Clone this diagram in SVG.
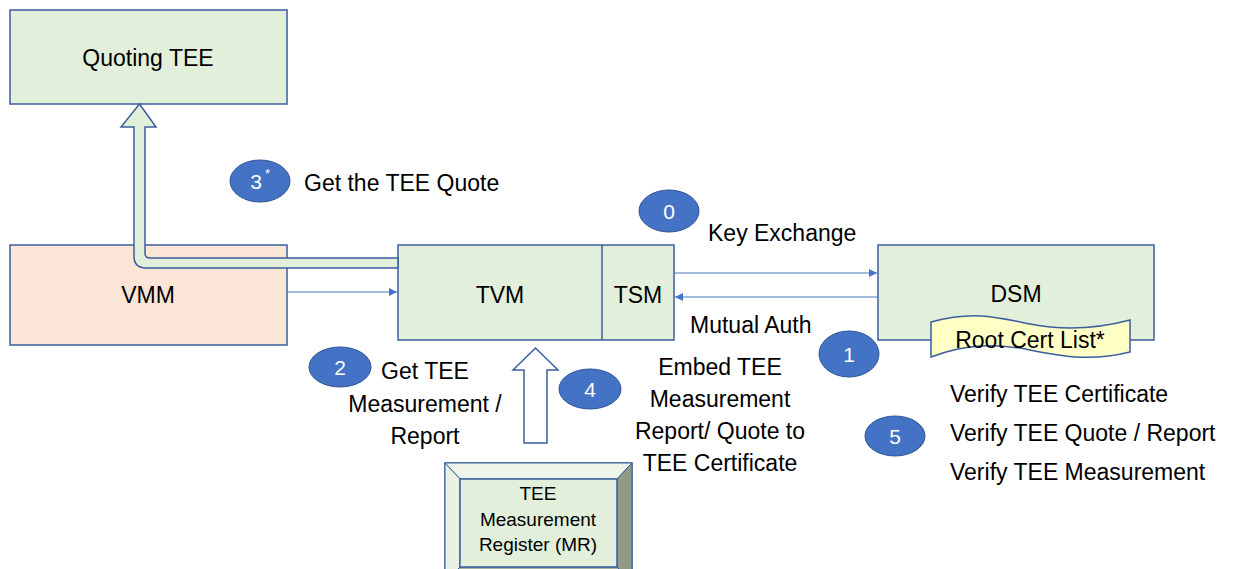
<svg xmlns="http://www.w3.org/2000/svg" width="1243" height="569" viewBox="0 0 1243 569">
<defs>
<style>
.box{fill:#e2efda;stroke:#3b5e9e;stroke-width:1.5}
.t{font-family:"Liberation Sans",Arial,sans-serif;font-size:23px;fill:#000}
.c{text-anchor:middle}
.num{fill:#4472c4;stroke:#2f5597;stroke-width:1}
.nt{font-family:"Liberation Sans",Arial,sans-serif;font-size:21px;fill:#fff;text-anchor:middle}
.ln{stroke:#4472c4;stroke-width:1;fill:none;marker-end:url(#ah)}
</style>
<marker id="ah" viewBox="0 0 10 10" refX="10" refY="5" markerWidth="10" markerHeight="8" markerUnits="userSpaceOnUse" orient="auto">
<path d="M0,0 L10,5 L0,10 Z" fill="#4472c4"/>
</marker>
</defs>
<rect width="1243" height="569" fill="#fff"/>

<g id="quoting-tee">
<rect class="box" x="10" y="10" width="277" height="94"/>
<text class="t c" x="148" y="66">Quoting TEE</text>
</g>

<g id="vmm">
<rect x="10" y="245" width="277" height="100" fill="#fbe5d6" stroke="#3b5e9e" stroke-width="1.5"/>
<text class="t c" x="148" y="303">VMM</text>
</g>

<g id="tvm">
<rect class="box" x="398" y="245" width="276" height="95"/>
<line x1="602" y1="245" x2="602" y2="340" stroke="#3b5e9e" stroke-width="1.5"/>
<text class="t c" x="500" y="303">TVM</text>
<text class="t c" x="638" y="303">TSM</text>
</g>

<g id="dsm">
<rect class="box" x="878" y="245" width="276" height="95"/>
<text class="t c" x="1016" y="302">DSM</text>
</g>

<g id="root-cert-list">
<path d="M931,322 C975,310 1000,318 1030,324 C1065,331 1100,328 1130,320 L1130,352 C1090,362 1060,356 1030,350 C995,343 965,344 931,357 Z" fill="#ffffc6" stroke="#3b5e9e" stroke-width="1.5"/>
<text class="t c" x="1030" y="348">Root Cert List*</text>
</g>

<g id="mr">
<rect x="445" y="463" width="187" height="119" fill="#e2efda" stroke="#3b5e9e" stroke-width="1.5"/>
<polygon points="445,463 632,463 617,479 460,479" fill="#eef5e8" stroke="#3b5e9e" stroke-width="1"/>
<polygon points="445,463 460,479 460,567 445,582" fill="#e8f1e2" stroke="#3b5e9e" stroke-width="1"/>
<polygon points="632,463 632,582 617,567 617,479" fill="#8f9b87" stroke="#3b5e9e" stroke-width="1"/>
<polygon points="445,582 460,567 617,567 632,582" fill="#a7b39f" stroke="#3b5e9e" stroke-width="1"/>
<rect x="460" y="479" width="157" height="88" fill="#e2efda" stroke="#3b5e9e" stroke-width="1.5"/>
<text class="t c" x="538" y="500" style="font-size:19px">TEE</text>
<text class="t c" x="538" y="526" style="font-size:19px">Measurement</text>
<text class="t c" x="538" y="551" style="font-size:19px">Register (MR)</text>
</g>

<g id="connectors">
<path class="ln" d="M287,292 L397,292"/>
<path class="ln" d="M674,273 L877,273"/>
<path class="ln" d="M878,297 L675,297"/>
<path d="M398,258 L150,258 Q145,258 145,253 L145,127 L156,127 L139.5,104 L121,127 L134,127 L134,256 Q134,268 146,268 L398,268 Z" fill="#e2efda" stroke="#3b5e9e" stroke-width="1.5"/>
<path d="M524,443 L524,370 L513,370 L535.5,348 L558,370 L547,370 L547,443 Z" fill="#fff" stroke="#3b5e9e" stroke-width="1.5"/>
</g>

<g id="step3">
<ellipse class="num" cx="260" cy="181" rx="30" ry="21"/>
<text class="nt" x="256" y="189">3</text>
<text x="265" y="178" font-family="Liberation Sans, Arial, sans-serif" font-size="13" fill="#fff">*</text>
<text class="t" x="304" y="191">Get the TEE Quote</text>
</g>

<g id="step0">
<ellipse class="num" cx="669" cy="211" rx="30" ry="21"/>
<text class="nt" x="669" y="219">0</text>
<text class="t" x="708" y="241">Key Exchange</text>
</g>

<g id="step1">
<ellipse class="num" cx="849" cy="354" rx="30" ry="23"/>
<text class="nt" x="849" y="362">1</text>
<text class="t" x="690" y="333">Mutual Auth</text>
</g>

<g id="step2">
<ellipse class="num" cx="340" cy="367" rx="31" ry="20"/>
<text class="nt" x="340" y="375">2</text>
<text class="t c" x="425" y="379">Get TEE</text>
<text class="t c" x="425" y="412">Measurement /</text>
<text class="t c" x="425" y="444">Report</text>
</g>

<g id="step4">
<ellipse class="num" cx="590" cy="389" rx="31" ry="20"/>
<text class="nt" x="590" y="397">4</text>
<text class="t c" x="720" y="375">Embed TEE</text>
<text class="t c" x="720" y="407">Measurement</text>
<text class="t c" x="720" y="439">Report/ Quote to</text>
<text class="t c" x="720" y="471">TEE Certificate</text>
</g>

<g id="step5">
<ellipse class="num" cx="895" cy="436" rx="30" ry="20"/>
<text class="nt" x="895" y="444">5</text>
<text class="t" x="950" y="402">Verify TEE Certificate</text>
<text class="t" x="950" y="441">Verify TEE Quote / Report</text>
<text class="t" x="950" y="480">Verify TEE Measurement</text>
</g>
</svg>
